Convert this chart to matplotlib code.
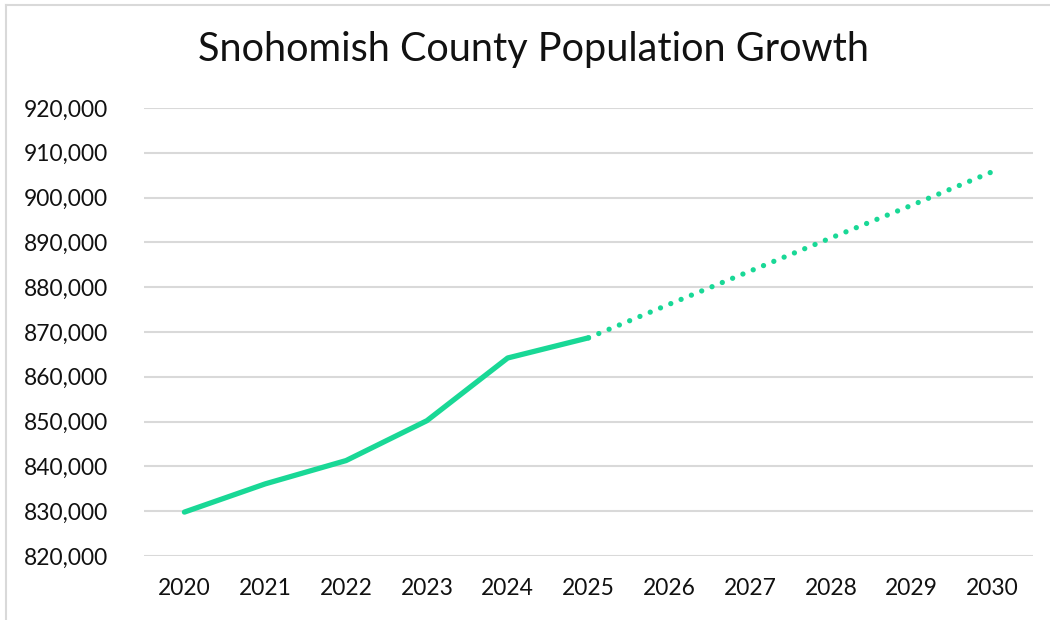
import numpy as np
import matplotlib.pyplot as plt
from matplotlib.ticker import FuncFormatter

years_actual = [2020, 2021, 2022, 2023, 2024, 2025]
pop_actual = [829800, 836100, 841300, 850200, 864200, 868700]

# Projection
years_proj = [2025, 2026, 2027, 2028, 2029, 2030]
pop_proj = [868700, 876200, 883600, 891000, 898300, 905800]

year_ticks = list(range(2020, 2031))
pop_ticks = list(range(820000, 920001, 10000))

green = '#19D896'
plt.rcParams['font.family'] = ['Lato', 'DejaVu Sans']

fig = plt.figure(figsize=(10.5, 6.2), dpi=100)
ax = fig.add_axes([144 / 1050, 1 - 556 / 620, (1033 - 144) / 1050, (556 - 108) / 620])

ax.plot(years_actual, pop_actual, color=green, lw=3.8, solid_capstyle='round',
        solid_joinstyle='round', zorder=3)
ax.plot(years_proj, pop_proj, color=green, lw=3.8, linestyle=(0, (0.01, 2.1)),
        dash_capstyle='round', zorder=3)

ax.set_xlim(2019.5, 2030.5)
ax.set_ylim(820000, 920000)
ax.set_xticks(year_ticks)
ax.set_yticks(pop_ticks)
ax.yaxis.set_major_formatter(FuncFormatter(lambda v, p: f'{int(v):,}'))
ax.grid(axis='y', color='#D9D9D9', lw=1.5)
ax.set_axisbelow(True)
ax.tick_params(length=0, labelsize=16.4, colors='#111111')
ax.tick_params(axis='y', pad=26)
ax.tick_params(axis='x', pad=16)
for s in ax.spines.values():
    s.set_visible(False)

fig.text(534 / 1050, 1 - 50 / 620, 'Snohomish County Population Growth',
         ha='center', va='center', fontsize=28.5, color='#111111')

# light chart border
fig.add_artist(plt.Line2D([6 / 1050, 6 / 1050], [0, 1 - 5 / 620], color='#D9D9D9', lw=1.5))
fig.add_artist(plt.Line2D([6 / 1050, 1], [1 - 5 / 620, 1 - 5 / 620], color='#D9D9D9', lw=1.5))

plt.savefig('out.png', dpi=100)
